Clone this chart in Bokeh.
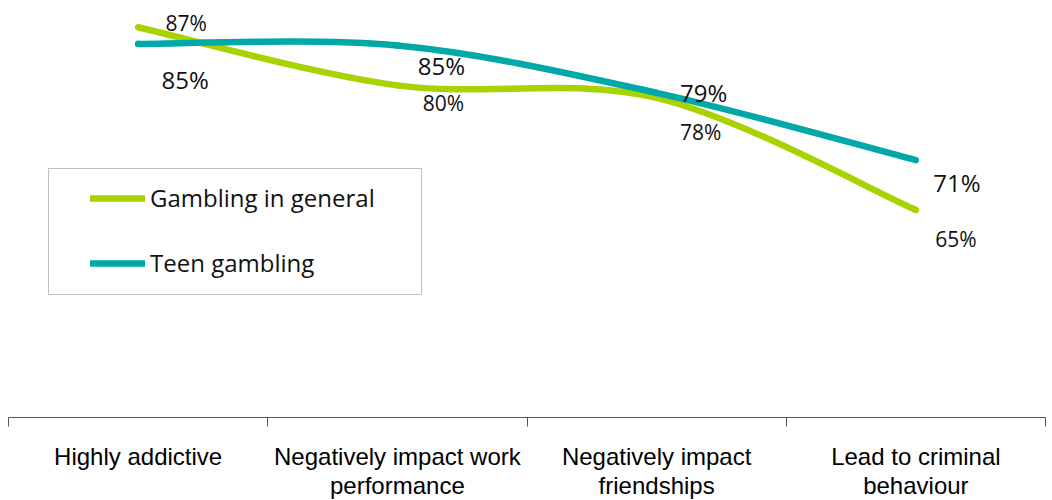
from bokeh.plotting import figure
from bokeh.models import (Range1d, FixedTicker, ColumnDataSource, Legend, LegendItem,
                          BoxAnnotation)
from bokeh.core.properties import value
from bokeh.embed import file_html
from bokeh.resources import INLINE

# ---- data ----
categories = ["Highly addictive", "Negatively impact work\nperformance",
              "Negatively impact\nfriendships", "Lead to criminal\nbehaviour"]
general = [87.0, 80.0, 78.5, 65.0]
teen = [85.0, 84.8, 79.1, 71.0]
series_names = ["Gambling in general", "Teen gambling"]

# ---- layout / style ----
GREEN = "#A8D300"
TEAL = "#00A8A8"
xs = [i + 0.5 for i in range(len(categories))]

p = figure(frame_width=1037, frame_height=409, output_backend="svg", toolbar_location=None,
           x_range=Range1d(0, len(categories)), y_range=Range1d(40, 89.26),
           min_border_left=8, min_border_right=3, min_border_top=8, min_border_bottom=0)
p.outline_line_color = None
p.grid.visible = False
p.yaxis.visible = False
p.background_fill_color = "white"
p.border_fill_color = "white"


def bezier_source(x, y):
    n = len(x)
    pts = list(zip(x, y))
    d = dict(x0=[], y0=[], x1=[], y1=[], cx0=[], cy0=[], cx1=[], cy1=[])
    for i in range(n - 1):
        p0 = pts[i - 1] if i > 0 else pts[i]
        p1 = pts[i]
        p2 = pts[i + 1]
        p3 = pts[i + 2] if i + 2 < n else pts[i + 1]
        d["x0"].append(p1[0]); d["y0"].append(p1[1])
        d["x1"].append(p2[0]); d["y1"].append(p2[1])
        d["cx0"].append(p1[0] + (p2[0] - p0[0]) / 6)
        d["cy0"].append(p1[1] + (p2[1] - p0[1]) / 6)
        d["cx1"].append(p2[0] - (p3[0] - p1[0]) / 6)
        d["cy1"].append(p2[1] - (p3[1] - p1[1]) / 6)
    return ColumnDataSource(d)


r_gen = p.bezier(x0="x0", y0="y0", x1="x1", y1="y1", cx0="cx0", cy0="cy0",
                 cx1="cx1", cy1="cy1", source=bezier_source(xs, general),
                 line_color=GREEN, line_width=6.5, line_cap="round")
r_teen = p.bezier(x0="x0", y0="y0", x1="x1", y1="y1", cx0="cx0", cy0="cy0",
                  cx1="cx1", cy1="cy1", source=bezier_source(xs, teen),
                  line_color=TEAL, line_width=6.5, line_cap="round")

# data labels
gen_dx = [48, 46, 44, 40]
gen_dy = [-4, 18, 34, 29]
teen_dx = [47, 44, 47, 41]
teen_dy = [36, 20, 0, 22]
p.text(x=xs, y=general, text=[f"{v:.0f}%" for v in general], x_offset=gen_dx, y_offset=gen_dy,
       text_align="center", text_baseline="middle", text_font=value("Open Sans"),
       text_font_size="21px", text_color="#111111")
p.text(x=xs, y=teen, text=[f"{v:.0f}%" for v in teen], x_offset=teen_dx, y_offset=teen_dy,
       text_align="center", text_baseline="middle", text_font=value("Open Sans"),
       text_font_size="24px", text_color="#111111")

# x axis: labels at centres, ticks at category boundaries
ax = p.xaxis[0]
ax.ticker = FixedTicker(ticks=xs, minor_ticks=list(range(len(categories) + 1)))
ax.major_label_overrides = {x: c for x, c in zip(xs, categories)}
ax.major_tick_line_color = None
ax.major_tick_out = 0
ax.major_tick_in = 0
ax.minor_tick_line_color = "#555555"
ax.minor_tick_out = 9
ax.minor_tick_in = 0
ax.axis_line_color = "#555555"
ax.major_label_text_font = "Liberation Sans"
ax.major_label_text_font_size = "24px"
ax.major_label_text_line_height = 1.1
ax.major_label_text_color = "#000000"
ax.major_label_standoff = 16

# legend
box = BoxAnnotation(left=40, right=413, top=249, bottom=123,
                    left_units="screen", right_units="screen",
                    top_units="screen", bottom_units="screen",
                    fill_color=None, line_color="#333333", line_width=1)
p.add_layout(box)

legend = Legend(items=[LegendItem(label=series_names[0], renderers=[r_gen]),
                       LegendItem(label=series_names[1], renderers=[r_teen])],
                location=(82, 138), padding=0, margin=0, spacing=32,
                glyph_width=55, glyph_height=22, label_height=22, label_standoff=5,
                label_text_font="Open Sans", label_text_font_size="24px",
                label_text_color="#111111",
                border_line_color=None, background_fill_alpha=0)
p.add_layout(legend, "center")

open("out.html", "w").write(file_html(p, INLINE))
